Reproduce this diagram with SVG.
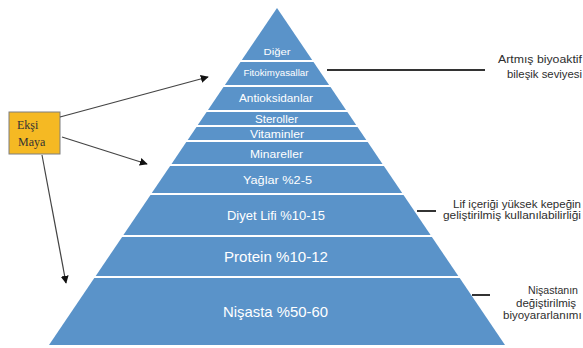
<svg xmlns="http://www.w3.org/2000/svg" width="583" height="348" viewBox="0 0 583 348">
<style>
.band{fill:#5a93c9}
.lbl{font-family:"Liberation Sans",Arial,sans-serif;fill:#ffffff;text-anchor:middle}
.note{font-family:"Liberation Sans",Arial,sans-serif;fill:#2e2e2e;font-size:11.5px}
.con{stroke:#444;stroke-width:1.2;fill:none}
.tick{stroke:#333;stroke-width:2;fill:none}
</style>
<defs>
<marker id="arr" viewBox="0 0 10 10" refX="9" refY="5" markerWidth="8" markerHeight="8" markerUnits="userSpaceOnUse" orient="auto">
<path d="M0,0 L10,5 L0,10 z" fill="#111"/>
</marker>
</defs>
<rect width="583" height="348" fill="#ffffff"/>
<g id="band-diger"><polygon class="band" points="277,8 312.2,60 241.8,60"/><text class="lbl" x="277" y="55" font-size="9" textLength="27" lengthAdjust="spacingAndGlyphs">Diğer</text></g>
<g id="band-fitokimyasallar"><polygon class="band" points="240.5,62 313.5,62 329.1,85 224.9,85"/><text class="lbl" x="276" y="76" font-size="8.5" textLength="65" lengthAdjust="spacingAndGlyphs">Fitokimyasallar</text></g>
<g id="band-antioksidanlar"><polygon class="band" points="223.5,87 330.5,87 346,110 208,110"/><text class="lbl" x="276" y="102" font-size="10.5" textLength="74" lengthAdjust="spacingAndGlyphs">Antioksidanlar</text></g>
<g id="band-steroller"><polygon class="band" points="206.6,112 347.4,112 356.2,125 197.8,125"/><text class="lbl" x="276.5" y="122.5" font-size="10" textLength="43" lengthAdjust="spacingAndGlyphs">Steroller</text></g>
<g id="band-vitaminler"><polygon class="band" points="196.5,127 357.5,127 366.3,140 187.7,140"/><text class="lbl" x="277" y="137.5" font-size="10" textLength="54" lengthAdjust="spacingAndGlyphs">Vitaminler</text></g>
<g id="band-minareller"><polygon class="band" points="186.3,142 367.7,142 382.5,164 171.5,164"/><text class="lbl" x="276.5" y="158" font-size="10.5" textLength="53" lengthAdjust="spacingAndGlyphs">Minareller</text></g>
<g id="band-yaglar"><polygon class="band" points="170.1,166 383.9,166 402.2,193 151.8,193"/><text class="lbl" x="277.5" y="184" font-size="11.5" textLength="69" lengthAdjust="spacingAndGlyphs">Yağlar %2-5</text></g>
<g id="band-diyet-lifi"><polygon class="band" points="150.5,195 403.5,195 430.6,235 123.4,235"/><text class="lbl" x="276" y="220" font-size="13" textLength="98" lengthAdjust="spacingAndGlyphs">Diyet Lifi %10-15</text></g>
<g id="band-protein"><polygon class="band" points="122.1,237 431.9,237 458.3,276 95.7,276"/><text class="lbl" x="276" y="262" font-size="14.5" textLength="104" lengthAdjust="spacingAndGlyphs">Protein %10-12</text></g>
<g id="band-nisasta"><polygon class="band" points="94.3,278 459.7,278 505,345 49,345"/><text class="lbl" x="275.5" y="317" font-size="14.5" textLength="105" lengthAdjust="spacingAndGlyphs">Nişasta %50-60</text></g>
<g id="eksi-maya">
<rect x="9" y="112" width="51" height="42" fill="#f5b923" stroke="#7f7f7f" stroke-width="1"/>
<text x="17" y="129" font-family="'Liberation Serif','Times New Roman',serif" font-size="12" fill="#333">Ekşi</text>
<text x="18" y="146" font-family="'Liberation Serif','Times New Roman',serif" font-size="12" fill="#333">Maya</text>
</g>
<g id="note-biyoaktif">
<text class="note" x="498" y="63" textLength="84" lengthAdjust="spacingAndGlyphs">Artmış biyoaktif</text>
<text class="note" x="507" y="78" textLength="75" lengthAdjust="spacingAndGlyphs">bileşik seviyesi</text>
</g>
<g id="note-lif">
<text class="note" x="453" y="208" textLength="128" lengthAdjust="spacingAndGlyphs">Lif içeriği yüksek kepeğin</text>
<text class="note" x="443" y="218.5" textLength="138" lengthAdjust="spacingAndGlyphs">geliştirilmiş kullanılabilirliği</text>
</g>
<g id="note-nisasta">
<text class="note" x="528" y="294" textLength="50" lengthAdjust="spacingAndGlyphs">Nişastanın</text>
<text class="note" x="516" y="307">değiştirilmiş</text>
<text class="note" x="503" y="319">biyoyararlanımı</text>
</g>
<g id="connectors">
<line class="con" x1="60" y1="117" x2="208" y2="77" marker-end="url(#arr)"/>
<line class="con" x1="62" y1="137" x2="147" y2="164" marker-end="url(#arr)"/>
<line class="con" x1="42" y1="155" x2="66" y2="283" marker-end="url(#arr)"/>
<line class="tick" x1="327" y1="70" x2="485" y2="70"/>
<line class="tick" x1="417" y1="211" x2="436" y2="211"/>
<line class="tick" x1="472" y1="295" x2="490" y2="295"/>
</g>
</svg>
